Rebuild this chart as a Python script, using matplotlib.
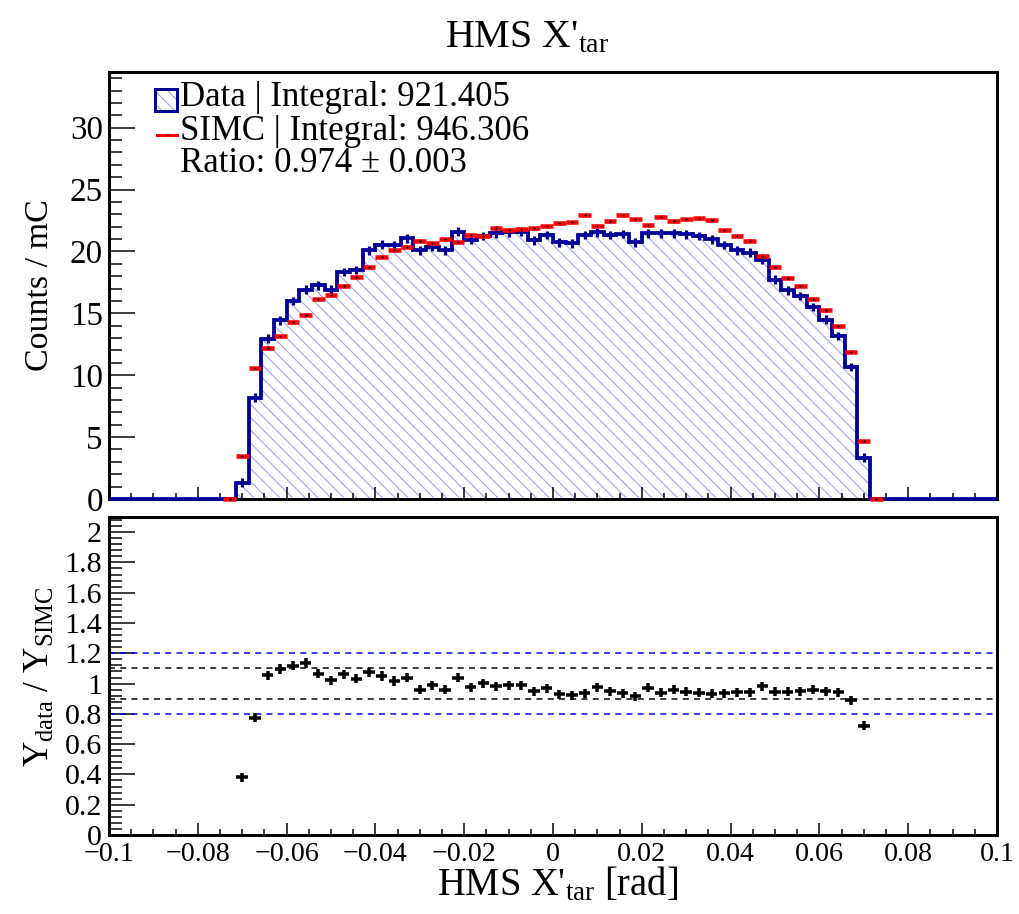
import numpy as np
import matplotlib
matplotlib.use("Agg")
import matplotlib.pyplot as plt
from matplotlib.ticker import MultipleLocator, FuncFormatter
from matplotlib.patches import Rectangle
from matplotlib.lines import Line2D

# ---------------- data ----------------
x_min, x_max, n_bins = -0.1, 0.1, 70
first_bin = 9  # index of first listed bin

data_counts = [0.0, 1.31, 8.19, 12.96, 14.44, 16.00, 16.92, 17.27, 16.90, 18.35,
               18.49, 20.10, 20.56, 20.51, 21.05, 20.10, 20.37, 20.10, 21.59, 20.95,
               21.24, 21.46, 21.54, 21.59, 20.91, 21.32, 20.73, 20.65, 21.32, 21.54,
               21.32, 21.40, 20.73, 21.46, 21.46, 21.46, 21.38, 21.26, 20.97, 20.51,
               20.10, 19.89, 19.30, 17.73, 16.87, 16.41, 15.52, 14.50, 13.17, 10.66,
               3.33, 0.0]

simc_counts = [0.03, 3.46, 10.56, 12.23, 13.15, 14.28, 14.87, 16.14, 16.52, 17.22,
               17.95, 18.71, 19.56, 20.11, 20.37, 20.86, 20.65, 20.97, 20.78, 21.29,
               21.24, 21.91, 21.72, 21.78, 21.88, 22.05, 22.26, 22.37, 22.91, 22.07,
               22.43, 22.91, 22.59, 22.13, 22.80, 22.45, 22.59, 22.67, 22.53, 21.70,
               21.26, 20.86, 19.64, 18.71, 17.86, 17.22, 16.19, 15.25, 13.96, 11.88,
               4.68, 0.03]

ratio_first_bin = 10
ratio_vals = [0.381, 0.774, 1.056, 1.096, 1.118, 1.136, 1.065, 1.021, 1.061, 1.032,
              1.074, 1.050, 1.017, 1.038, 0.959, 0.990, 0.959, 1.038, 0.977, 1.001,
              0.981, 0.990, 0.990, 0.950, 0.968, 0.928, 0.924, 0.935, 0.977, 0.950,
              0.935, 0.917, 0.972, 0.939, 0.959, 0.946, 0.939, 0.932, 0.937, 0.942,
              0.942, 0.981, 0.946, 0.946, 0.950, 0.959, 0.950, 0.944, 0.889, 0.723]

data_err = 0.35
simc_err = 0.12
ratio_err = 0.03

legend_lines = ["Data | Integral: 921.405",
                "SIMC | Integral: 946.306",
                "Ratio: 0.974 \u00b1 0.003"]

# ---------------- setup ----------------
DPI = 77
W, H = 1019, 914


def pt(px):
    return px * 72.0 / DPI


def fx(px):
    return px / W


def fy(py):
    return 1.0 - py / H


plt.rcParams['font.family'] = ['Liberation Serif', 'DejaVu Serif']
plt.rcParams['mathtext.fontset'] = 'custom'
plt.rcParams['mathtext.rm'] = 'Liberation Serif'
plt.rcParams['mathtext.it'] = 'Liberation Serif:italic'
plt.rcParams['mathtext.bf'] = 'Liberation Serif:bold'
plt.rcParams['hatch.linewidth'] = pt(1.0)
plt.rcParams['axes.unicode_minus'] = True

edges = np.linspace(x_min, x_max, n_bins + 1)
bw = edges[1] - edges[0]
centers = 0.5 * (edges[:-1] + edges[1:])

data_full = np.zeros(n_bins)
data_full[first_bin:first_bin + len(data_counts)] = data_counts
simc_full = np.zeros(n_bins)
simc_full[first_bin:first_bin + len(simc_counts)] = simc_counts
ratio_c = centers[ratio_first_bin:ratio_first_bin + len(ratio_vals)]

HATCH_COL = '#9a9af4'
DATA_COL = '#000099'
HATCH = '\\\\'

fig = plt.figure(figsize=(W / DPI, H / DPI), dpi=DPI)
ax1 = fig.add_axes([fx(109), fy(499), 888 / W, 427 / H])
ax2 = fig.add_axes([fx(109), fy(835), 888 / W, 318 / H])

# ---------------- top panel ----------------
ax1.stairs(data_full, edges, fill=True, baseline=0, facecolor='none',
           edgecolor=HATCH_COL, hatch=HATCH, linewidth=0, zorder=1)
ax1.stairs(data_full, edges, baseline=None, color=DATA_COL, linewidth=pt(3.8),
           zorder=4, clip_on=False)
m = data_full > 0
ax1.errorbar(centers[m], data_full[m], yerr=data_err, fmt='none', ecolor=DATA_COL,
             elinewidth=pt(3.2), capsize=0, zorder=4)
ms = simc_full > 0
ax1.errorbar(centers[ms], simc_full[ms], xerr=bw / 2, yerr=simc_err, fmt='none',
             ecolor='#ff0000', elinewidth=pt(4.5), capsize=0, zorder=5, clip_on=False)
ax1.plot(centers[ms], simc_full[ms], 'o', color='black', ms=pt(2.2), mew=0,
         zorder=6, clip_on=False)

ax1.set_xlim(x_min, x_max)
ax1.set_ylim(0, 34.5)
ax1.xaxis.set_major_locator(MultipleLocator(0.02))
ax1.xaxis.set_minor_locator(MultipleLocator(0.005))
ax1.yaxis.set_major_locator(MultipleLocator(5))
ax1.yaxis.set_minor_locator(MultipleLocator(1))
ax1.tick_params(axis='x', which='both', direction='in', labelbottom=False,
                top=False, width=pt(1.5))
ax1.tick_params(axis='x', which='major', length=pt(12))
ax1.tick_params(axis='x', which='minor', length=pt(6))
ax1.tick_params(axis='y', which='both', direction='in', right=False, width=pt(1.5),
                labelsize=pt(33), pad=pt(6))
ax1.tick_params(axis='y', which='major', length=pt(26))
ax1.tick_params(axis='y', which='minor', length=pt(13))
ax1.yaxis.set_major_formatter(FuncFormatter(lambda v, p: '%g' % v))

# ---------------- bottom panel ----------------
for yv, col in [(1.2, '#0000ff'), (0.8, '#0000ff'), (1.1, 'black'), (0.9, 'black')]:
    ax2.axhline(yv, color=col, linewidth=pt(1.5), dashes=(4, 3.5), zorder=2)
ax2.errorbar(ratio_c, ratio_vals, xerr=bw * 0.45, yerr=ratio_err, fmt='none',
             ecolor='black', elinewidth=pt(3.5), capsize=0, zorder=4)
ax2.set_xlim(x_min, x_max)
ax2.set_ylim(0, 2.1)
ax2.xaxis.set_major_locator(MultipleLocator(0.02))
ax2.xaxis.set_minor_locator(MultipleLocator(0.005))
ax2.yaxis.set_major_locator(MultipleLocator(0.2))
ax2.yaxis.set_minor_locator(MultipleLocator(0.04))
ax2.tick_params(axis='x', which='both', direction='in', top=False, width=pt(1.5),
                labelsize=pt(28), pad=pt(7))
ax2.tick_params(axis='x', which='major', length=pt(12))
ax2.tick_params(axis='x', which='minor', length=pt(6))
ax2.tick_params(axis='y', which='both', direction='in', right=False, width=pt(1.5),
                labelsize=pt(30), pad=pt(7))
ax2.tick_params(axis='y', which='major', length=pt(26))
ax2.tick_params(axis='y', which='minor', length=pt(13))


def xfmt(v, p):
    v = round(v, 4)
    if abs(v) < 1e-9:
        return '0'
    return ('%g' % v).replace('-', '\u2212')


ax2.xaxis.set_major_formatter(FuncFormatter(xfmt))
ax2.yaxis.set_major_formatter(FuncFormatter(lambda v, p: '%g' % round(v, 4)))

for ax in (ax1, ax2):
    for s in ax.spines.values():
        s.set_linewidth(pt(3))
        s.set_zorder(3)

# ---------------- legend ----------------
fig.add_artist(Rectangle((fx(155), fy(111)), 22 / W, 22 / H, transform=fig.transFigure,
                         facecolor='none', edgecolor=HATCH_COL, hatch=HATCH, linewidth=0))
fig.add_artist(Rectangle((fx(155), fy(111)), 22 / W, 22 / H, transform=fig.transFigure,
                         facecolor='none', edgecolor=DATA_COL, linewidth=pt(3)))
fig.add_artist(Line2D([fx(157), fx(177)], [fy(135), fy(135)], transform=fig.transFigure,
                      color='#ff0000', linewidth=pt(3)))
fig.add_artist(Line2D([fx(167)], [fy(135)], transform=fig.transFigure, marker='o',
                      color='black', ms=pt(2), mew=0, linestyle='none'))
for i, txt in enumerate(legend_lines):
    fig.text(fx(180), fy(98 + 33 * i), txt, ha='left', va='center', fontsize=pt(34.8))

# ---------------- labels ----------------
fig.text(fx(527), fy(38), r"HMS X'$_{\mathrm{tar}}$", ha='center', va='center',
         fontsize=pt(40))
fig.text(fx(558), fy(885), r"HMS X'$_{\mathrm{tar}}$ [rad]", ha='center', va='center',
         fontsize=pt(38.5))
fig.text(fx(40), fy(285), "Counts / mC", rotation=90, ha='center', va='center',
         fontsize=pt(34))
fig.text(fx(40), fy(677), r"Y$_{\mathrm{data}}$ / Y$_{\mathrm{SIMC}}$", rotation=90,
         ha='center', va='center', fontsize=pt(35))

fig.savefig("out.png", dpi=DPI)
